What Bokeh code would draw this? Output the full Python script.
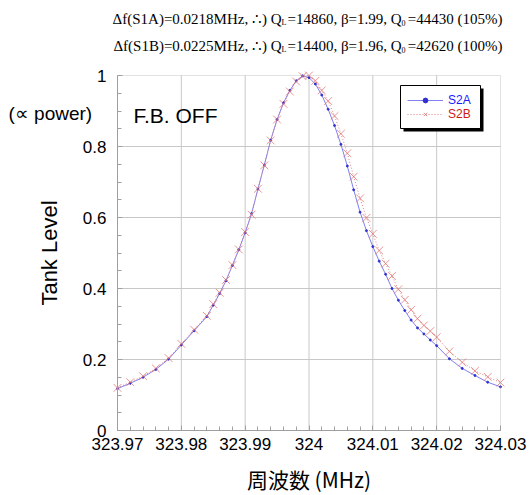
from bokeh.plotting import figure
from bokeh.models import (FixedTicker, CustomJSTickFormatter, Label, BoxAnnotation,
                          Legend, LegendItem, Range1d)
from bokeh.embed import file_html
from bokeh.resources import INLINE

# ---------------- data ----------------
freq = [323.970, 323.972, 323.974, 323.976, 323.978, 323.980, 323.982, 323.984,
        323.985, 323.986, 323.987, 323.988, 323.989, 323.990, 323.991, 323.992,
        323.993, 323.994, 323.995, 323.996, 323.997, 323.998, 323.999, 324.000,
        324.001, 324.002, 324.003, 324.004, 324.005, 324.006, 324.007, 324.008,
        324.009, 324.010, 324.011, 324.012, 324.013, 324.014, 324.015, 324.016,
        324.017, 324.018, 324.019, 324.020, 324.022, 324.024, 324.026, 324.028,
        324.030]
level_s2a = [0.118, 0.133, 0.150, 0.172, 0.201, 0.241, 0.281, 0.321,
             0.353, 0.386, 0.422, 0.465, 0.509, 0.557, 0.611, 0.680,
             0.748, 0.818, 0.876, 0.923, 0.958, 0.985, 0.999, 0.994,
             0.976, 0.945, 0.905, 0.859, 0.806, 0.745, 0.678, 0.615,
             0.563, 0.518, 0.477, 0.440, 0.400, 0.367, 0.338, 0.311,
             0.289, 0.272, 0.255, 0.239, 0.202, 0.175, 0.155, 0.136,
             0.123]
level_s2b = [0.120, 0.136, 0.153, 0.175, 0.204, 0.244, 0.284, 0.323,
             0.356, 0.388, 0.424, 0.466, 0.510, 0.559, 0.608, 0.681,
             0.747, 0.817, 0.876, 0.920, 0.955, 0.983, 0.998, 1.000,
             0.985, 0.958, 0.928, 0.886, 0.836, 0.781, 0.715, 0.654,
             0.599, 0.554, 0.507, 0.470, 0.435, 0.398, 0.368, 0.340,
             0.315, 0.296, 0.280, 0.263, 0.223, 0.192, 0.168, 0.151,
             0.135]
series_names = ["S2A", "S2B"]
x_ticks = [323.97, 323.98, 323.99, 324, 324.01, 324.02, 324.03]
y_ticks = [0, 0.2, 0.4, 0.6, 0.8, 1]
header_a = ["\u0394f(S1A)=0.0218MHz, \u2234) Q", "L", "=14860, \u03b2=1.99, Q", "0", "=44430 (105%)"]
header_b = ["\u0394f(S1B)=0.0225MHz, \u2234) Q", "L", "=14400, \u03b2=1.96, Q", "0", "=42620 (100%)"]

# ---------------- layout (canvas pixels) ----------------
W, H = 528, 493
PL, PR, PT, PB = 117, 500, 75, 430          # plot box
X0, X1 = x_ticks[0], x_ticks[-1]
Y0, Y1 = y_ticks[0], y_ticks[-1]
kx = (X1 - X0) / (PR - PL)
ky = (Y1 - Y0) / (PB - PT)

def dx(px):
    return X0 + (px - PL) * kx

def dy(py):
    return Y0 + (PB - py) * ky

p = figure(width=W, height=H, min_border=0, output_backend="svg", toolbar_location=None,
           x_range=Range1d(dx(0), dx(W)), y_range=Range1d(dy(H), dy(0)),
           background_fill_color="white", border_fill_color="white")
p.title.visible = False
p.outline_line_color = None
p.xgrid.visible = False
p.ygrid.visible = False

# grid lines (at the major ticks)
p.segment(x0=x_ticks[1:-1], y0=Y0, x1=x_ticks[1:-1], y1=Y1, line_color="#c8c8c8", line_width=1)
p.segment(x0=X0, y0=y_ticks[1:-1], x1=X1, y1=y_ticks[1:-1], line_color="#c8c8c8", line_width=1)

# axes pinned to the plot box
minor_x = [X0 + i * 0.002 for i in range(31)]
minor_y = [i * 0.05 for i in range(21)]
fmt = CustomJSTickFormatter(code="return tick.toString()")
p.xaxis.fixed_location = Y0
p.xaxis.bounds = (X0, X1)
p.yaxis.fixed_location = X0
p.yaxis.bounds = (Y0, Y1)
p.xaxis.ticker = FixedTicker(ticks=x_ticks, minor_ticks=minor_x)
p.yaxis.ticker = FixedTicker(ticks=y_ticks, minor_ticks=minor_y)
p.xaxis.formatter = fmt
p.yaxis.formatter = fmt
for ax in (p.xaxis[0], p.yaxis[0]):
    ax.axis_line_color = "#a0a0a0"
    ax.major_tick_line_color = "#a0a0a0"
    ax.minor_tick_line_color = "#a0a0a0"
    ax.major_tick_in = 5
    ax.major_tick_out = 0
    ax.minor_tick_in = 4
    ax.minor_tick_out = 0
    ax.major_label_text_font = "Liberation Sans"
    ax.major_label_text_font_size = "17px"
    ax.major_label_text_color = "black"
    ax.axis_label_text_font_style = "normal"
    ax.axis_label_text_color = "black"
p.xaxis.major_label_standoff = 7
p.yaxis.major_label_standoff = 11
p.xaxis.axis_label = "周波数 (MHz)"
p.xaxis.axis_label_text_font = "Noto Sans CJK JP"
p.xaxis.axis_label_text_font_size = "21px"
p.xaxis.axis_label_standoff = 11
p.yaxis.axis_label = "Tank Level"
p.yaxis.axis_label_text_font = "Liberation Sans"
p.yaxis.axis_label_text_font_size = "22px"
p.yaxis.axis_label_standoff = 18

# plot box outline
p.add_layout(BoxAnnotation(left=X0, right=X1, bottom=Y0, top=Y1, fill_alpha=0,
                           line_color="#a0a0a0", line_width=1))

# ---------------- series ----------------
la = p.line(freq, level_s2a, line_color="#8080f0", line_width=1)
sa = p.scatter(freq, level_s2a, marker="circle", size=2, fill_color="#3030d0",
               line_color="#3030d0")
lb = p.line(freq, level_s2b, line_color="#e08080", line_width=1, line_dash="1 2")
sb = p.scatter(freq, level_s2b, marker="x", size=11, line_color="#e07070",
               line_alpha=0.75, line_width=1)

# legend box with shadow
p.add_layout(BoxAnnotation(left=dx(403), right=dx(483), top=dy(88), bottom=dy(131),
                           fill_color="black", fill_alpha=1, line_alpha=0))
p.add_layout(BoxAnnotation(left=dx(400), right=dx(480), top=dy(85), bottom=dy(128),
                           fill_color="white", fill_alpha=1, line_color="black",
                           line_width=1, line_alpha=1))

leg_a = Legend(items=[LegendItem(label=series_names[0], renderers=[la, sa])],
               location=(407, H - 107), label_text_color="#1a1aff")
leg_b = Legend(items=[LegendItem(label=series_names[1], renderers=[lb, sb])],
               location=(407, H - 121), label_text_color="#d01818")
for lg in (leg_a, leg_b):
    lg.padding = 0
    lg.margin = 0
    lg.spacing = 0
    lg.glyph_width = 36
    lg.glyph_height = 12
    lg.label_height = 12
    lg.label_standoff = 5
    lg.label_text_font = "Liberation Sans"
    lg.label_text_font_size = "12px"
    lg.border_line_alpha = 0
    lg.background_fill_alpha = 0
    p.add_layout(lg)

# ---------------- texts ----------------
def lab(text, px, py, size, font="Liberation Sans", color="black", align="left"):
    p.add_layout(Label(x=dx(px), y=dy(py), text=text, text_font=font,
                       text_font_size=size, text_color=color, text_align=align,
                       text_baseline="alphabetic"))

lab("F.B. OFF", 133, 115, "21px")
lab("(\u221d power)", 8, 113, "19px")

for hdr, base in ((header_a, 18), (header_b, 45)):
    lab(hdr[0], 281, base, "15px", font="Liberation Serif", align="right")
    lab(hdr[1], 281, base + 4, "8px", font="Liberation Serif")
    lab(hdr[2], 287, base, "15px", font="Liberation Serif")
    lab(hdr[3], 401, base + 4, "8px", font="Liberation Serif")
    lab(hdr[4], 502, base, "15px", font="Liberation Serif", align="right")

open("out.html", "w").write(file_html(p, INLINE))
